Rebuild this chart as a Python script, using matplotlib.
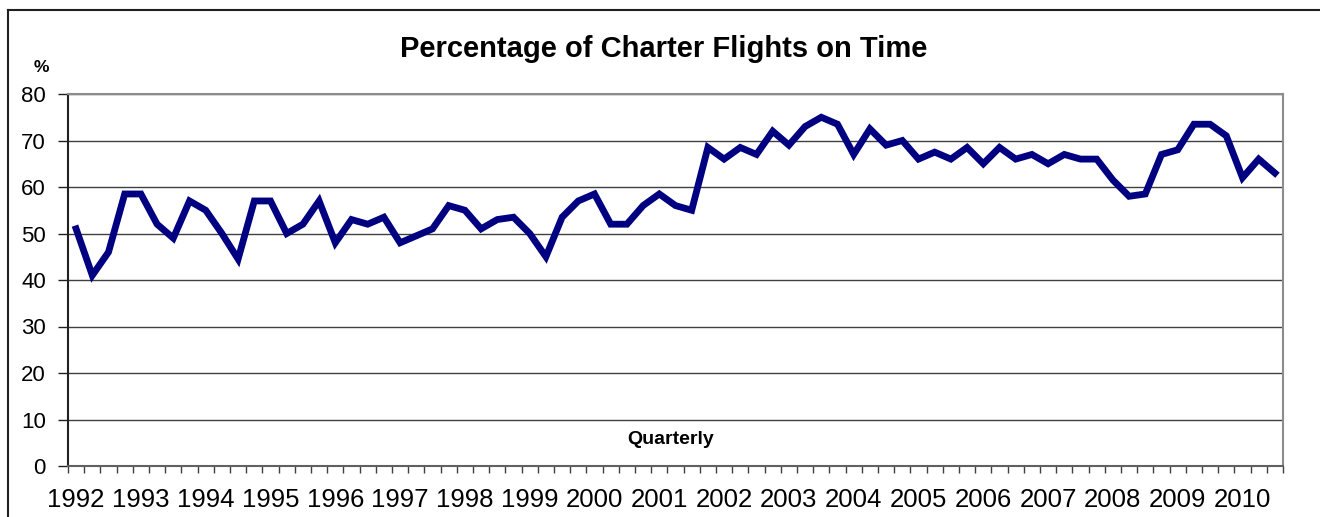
import matplotlib
matplotlib.use("Agg")
import matplotlib.pyplot as plt
from matplotlib.lines import Line2D
import numpy as np

plt.rcParams['font.family'] = ['Liberation Sans', 'DejaVu Sans']

title = "Percentage of Charter Flights on Time"
years = ["1992", "1993", "1994", "1995", "1996", "1997", "1998", "1999", "2000",
         "2001", "2002", "2003", "2004", "2005", "2006", "2007", "2008", "2009", "2010"]
# Quarterly values 1992 Q1 .. 2010 Q3
values = [51, 41, 46, 58.5, 58.5, 52, 49, 57, 55, 50, 44.5, 57, 57, 50, 52, 57,
          48, 53, 52, 53.5, 48, 49.5, 51, 56, 55, 51, 53, 53.5, 50, 45,
          53.5, 57, 58.5, 52, 52, 56, 58.5, 56, 55, 68.5, 66, 68.5, 67, 72, 69,
          73, 75, 73.5, 67, 72.5, 69, 70, 66, 67.5, 66, 68.5, 65, 68.5, 66, 67,
          65, 67, 66, 66, 61.5, 58, 58.5, 67, 68, 73.5, 73.5, 71, 62, 66, 63]
yticks = [0, 10, 20, 30, 40, 50, 60, 70, 80]

W, H = 1320, 517
fig = plt.figure(figsize=(W / 100, H / 100), dpi=100)
ax = fig.add_axes([68 / W, 1 - 466 / H, (1283 - 68) / W, (466 - 94) / H])

n = len(values)
x = np.arange(n)
ax.plot(x, values, color='#000080', lw=4.9, solid_joinstyle='miter', zorder=3)

ax.set_xlim(-0.5, n - 0.5)
ax.set_ylim(0, 80)
ax.set_yticks(yticks)
ax.set_yticklabels([str(v) for v in yticks], fontsize=16)
ax.yaxis.grid(True, color='#404040', lw=1)
ax.set_axisbelow(True)

ax.set_xticks(np.arange(-0.5, n, 1.0))
ax.set_xticklabels([])
ax.set_xticks(np.arange(0, n, 4), minor=True)
ax.set_xticklabels(years, minor=True, fontsize=18.5)
ax.tick_params(axis='x', which='major', direction='out', length=5, width=1, color='#404040')
ax.tick_params(axis='x', which='minor', length=0, pad=16)
ax.tick_params(axis='y', direction='out', length=7, width=1, color='#202020', pad=9)

for s in ['top', 'right']:
    ax.spines[s].set_color('#8c8c8c')
    ax.spines[s].set_linewidth(1.5)
ax.spines['left'].set_color('#202020')
ax.spines['left'].set_linewidth(1.5)
ax.spines['bottom'].set_color('#606060')
ax.spines['bottom'].set_linewidth(1.5)

fig.text(664 / W, 1 - 49 / H, title, fontsize=21, fontweight='bold', ha='center', va='center')
fig.text(41 / W, 1 - 68 / H, "%", fontsize=12.5, fontweight='bold', ha='center', va='center')
fig.text(671 / W, 1 - 440 / H, "Quarterly", fontsize=14, fontweight='bold', ha='center', va='center')

# outer chart frame (left and top edges)
fig.add_artist(Line2D([7.5 / W, 7.5 / W], [0, 1 - 10 / H], transform=fig.transFigure, color='#202020', lw=1.5))
fig.add_artist(Line2D([7.5 / W, 1], [1 - 10 / H, 1 - 10 / H], transform=fig.transFigure, color='#202020', lw=1.5))

fig.savefig("out.png", dpi=100, facecolor='white')
